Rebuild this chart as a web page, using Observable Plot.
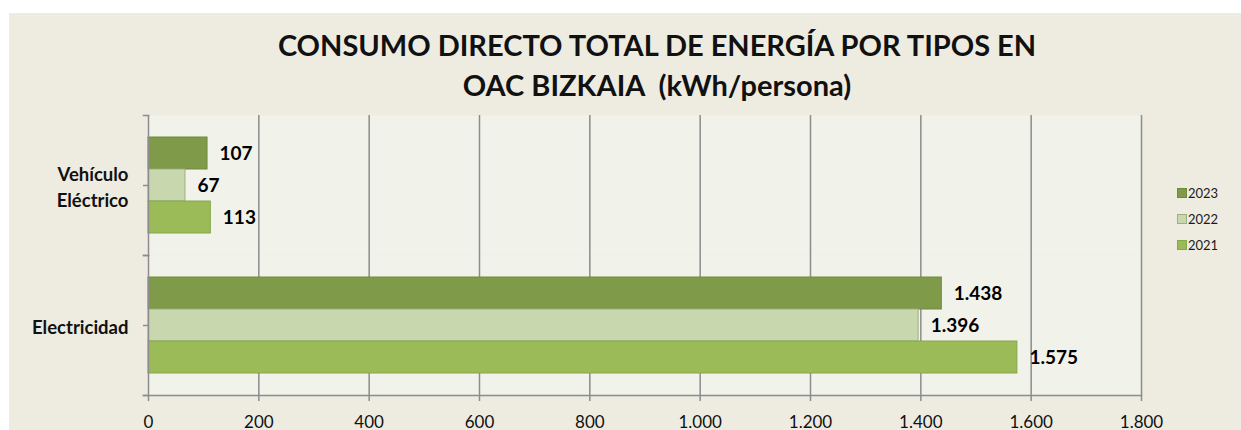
<!DOCTYPE html>
<html>
<head>
<meta charset="utf-8">
<script src="https://cdn.jsdelivr.net/npm/d3@7"></script>
<script src="https://cdn.jsdelivr.net/npm/@observablehq/plot@0.6"></script>
<style>
  html, body { margin: 0; padding: 0; background: #ffffff; }
  body { width: 1241px; height: 430px; position: relative; overflow: hidden; font-family: Lato, "Open Sans", sans-serif; }
  #panel { position: absolute; left: 9px; top: 13px; width: 1232px; height: 417px; background: #EEECE1; }
  #title { box-sizing: border-box; width: 1232px; height: 90px; padding-top: 12px; padding-left: 64px; text-align: center;
           font-weight: 700; font-size: 29px; line-height: 40px; color: #111; white-space: pre; }
  #legend { position: absolute; left: 1168px; top: 167px; font-size: 13px; color: #1a1a1a; }
  .row { display: flex; align-items: center; height: 26px; }
  .sw { width: 8px; height: 8px; margin-right: 1px; box-sizing: content-box; }
  svg { display: block; }
</style>
</head>
<body>
<div id="panel">
  <div id="title"></div>
  <div id="chart"></div>
  <div id="legend"></div>
</div>
<script>
// ---- data ----
const titleLines = ["CONSUMO DIRECTO TOTAL DE ENERGÍA POR TIPOS EN", "OAC BIZKAIA  (kWh/persona)"];
const categories = ["Vehículo Eléctrico", "Electricidad"];
const years = ["2023", "2022", "2021"];
const vehiculoElectrico = [107, 67, 113];
const electricidad = [1438, 1396, 1575];
const xTicks = [0, 200, 400, 600, 800, 1000, 1200, 1400, 1600, 1800];
const yearColors = ["#7F9A48", "#C8D7AE", "#9BBB59"];
const yearStrokes = ["#6F8A3C", "#9FAF82", "#86A64B"];

const seriesByCat = [vehiculoElectrico, electricidad];
const data = categories.flatMap((cat, i) => years.map((year, j) => ({cat, year, value: seriesByCat[i][j]})));

const locale = d3.formatLocale({decimal: ",", thousands: ".", grouping: [3], currency: ["", " €"]});
const fmt = locale.format(",d");

document.getElementById("title").innerHTML = titleLines.map(t => `<div>${t}</div>`).join("");

const W = 1232, mL = 139, mR = 100;
const plotW = W - mL - mR;
const gray = "#8C8C8C";
const strokeMap = Object.fromEntries(years.map((y, i) => [y, yearStrokes[i]]));

const chart = Plot.plot({
  width: W,
  height: 327,
  marginTop: 12,
  marginBottom: 35,
  marginLeft: mL,
  marginRight: mR,
  style: {background: "transparent", fontFamily: "Lato, 'Open Sans', sans-serif", overflow: "visible"},
  x: {domain: [0, 1800]},
  y: {domain: years, paddingInner: 0, paddingOuter: 0.6875, axis: null},
  fy: {domain: categories, padding: 0, axis: null},
  color: {domain: years, range: yearColors},
  marks: [
    Plot.frame({fill: "#F1F2EA", stroke: "none"}),
    Plot.ruleX(xTicks.slice(1), {stroke: gray, strokeWidth: 1.5}),
    Plot.barX(data, {x: "value", y: "year", fy: "cat", fill: "year", stroke: d => strokeMap[d.year], strokeWidth: 1}),
    Plot.text(data, {x: "value", y: "year", fy: "cat", text: d => fmt(d.value), dx: 12, textAnchor: "start",
                     fontWeight: "bold", fontSize: 19, fill: "#000"}),
    Plot.ruleX([0], {stroke: gray, strokeWidth: 1.5}),
    Plot.frame({anchor: "top", insetLeft: -5, insetRight: plotW, stroke: gray, strokeWidth: 1.5}),
    Plot.frame({anchor: "bottom", insetLeft: -5, insetRight: plotW, stroke: gray, strokeWidth: 1.5}),
    Plot.frame({anchor: "bottom", insetLeft: -5, stroke: gray, strokeWidth: 1.5, facetAnchor: "bottom"}),
    Plot.axisX({ticks: xTicks, tickFormat: fmt, tickSize: 6, tickPadding: 14, fontSize: 17,
                stroke: gray, strokeWidth: 1.5, fill: "#111", label: null}),
    Plot.axisFy({anchor: "left", tickSize: 5, tickPadding: 15, fontSize: 18.5, fontWeight: "bold", lineHeight: 1.4,
                 tickFormat: d => d.replace(" ", "\n"), stroke: gray, strokeWidth: 1.5, fill: "#111", label: null})
  ]
});
document.getElementById("chart").appendChild(chart);

document.getElementById("legend").innerHTML = years.map((y, i) =>
  `<div class="row"><div class="sw" style="background:${yearColors[i]};border:1px solid ${yearStrokes[i]}"></div><span>${y}</span></div>`
).join("");
</script>
</body>
</html>
